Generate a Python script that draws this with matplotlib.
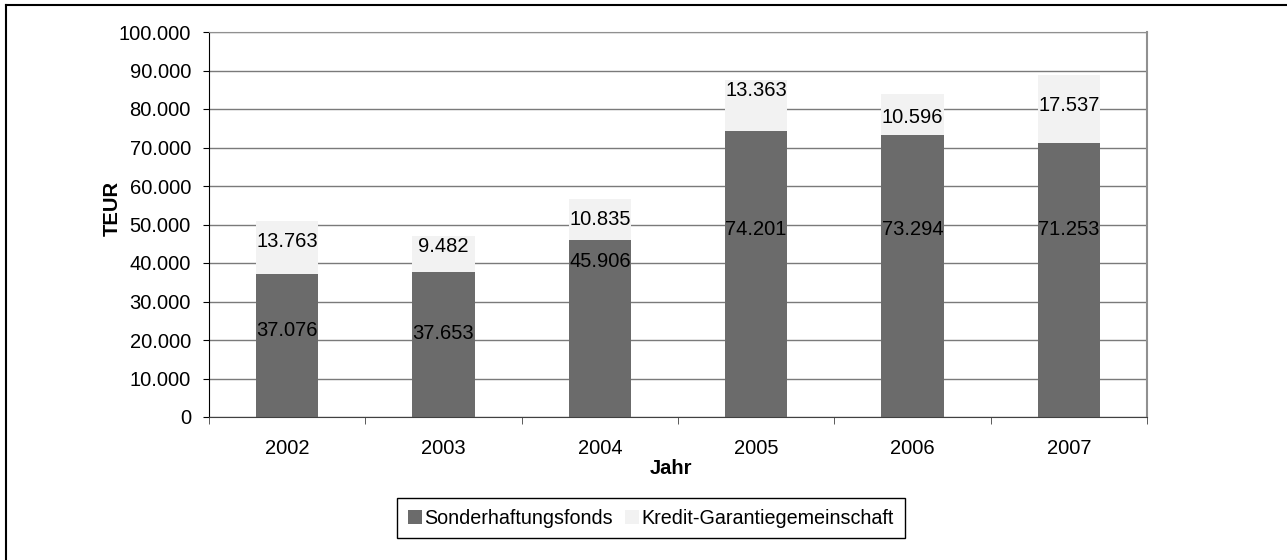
import numpy as np
import matplotlib.pyplot as plt
from matplotlib.ticker import FuncFormatter

plt.rcParams['font.family'] = ['Liberation Sans', 'DejaVu Sans']

jahre = ['2002', '2003', '2004', '2005', '2006', '2007']
sonderhaftungsfonds = [37076, 37653, 45906, 74201, 73294, 71253]
kredit_garantie = [13763, 9482, 10835, 13363, 10596, 17537]

# Lage der Beschriftungen (y in Datenwerten)
pos_sonder = [22400, 21600, 40500, 48800, 48800, 48800]
pos_kredit = [45500, 44200, 51400, 84900, 77900, 81000]

dunkel = '#6b6b6b'
hell = '#f2f2f2'
fs = 14.5

def punkt(v):
    return f'{v:,.0f}'.replace(',', '.')

fig = plt.figure(figsize=(12.87, 5.6), dpi=100)
ax = fig.add_axes([209/1287, 1 - 417/560, (1147 - 209)/1287, (417 - 32)/560])

x = np.arange(len(jahre))
b1 = ax.bar(x, sonderhaftungsfonds, width=0.4, color=dunkel, label='Sonderhaftungsfonds', zorder=2)
b2 = ax.bar(x, kredit_garantie, width=0.4, bottom=sonderhaftungsfonds, color=hell,
            label='Kredit-Garantiegemeinschaft', zorder=2)

for i in range(len(jahre)):
    ax.text(x[i], pos_sonder[i], punkt(sonderhaftungsfonds[i]), ha='center', va='center',
            fontsize=fs, color='black', zorder=3)
    ax.text(x[i], pos_kredit[i], punkt(kredit_garantie[i]), ha='center', va='center',
            fontsize=fs, color='black', zorder=3)

ax.set_xlim(-0.5, len(jahre) - 0.5)
ax.set_ylim(0, 100000)
ax.set_yticks(np.arange(0, 100001, 10000))
ax.yaxis.set_major_formatter(FuncFormatter(lambda v, p: punkt(v)))
ax.set_xticks(x)
ax.set_xticklabels(jahre)
ax.set_xticks(np.arange(-0.5, len(jahre), 1), minor=True)
ax.tick_params(axis='x', which='major', length=0, pad=16, labelsize=fs)
ax.tick_params(axis='x', which='minor', length=5, direction='out', color='#404040')
ax.tick_params(axis='y', length=4, direction='out', labelsize=fs, pad=9)

ax.grid(axis='y', color='#7a7a7a', linewidth=1, zorder=1)
ax.set_axisbelow(True)
ax.spines['left'].set_color('black')
ax.spines['bottom'].set_color('#404040')
ax.spines['top'].set_color('#909090')
ax.spines['right'].set_color('#909090')
ax.spines['right'].set_linewidth(1.5)

fig.text(112/1287, 1 - 208/560, 'TEUR', rotation=90, ha='center', va='center',
         fontsize=fs, fontweight='bold')
fig.text(671/1287, 1 - 468/560, 'Jahr', ha='center', va='center',
         fontsize=fs, fontweight='bold')

fig.legend(handles=[b1, b2], loc='center', bbox_to_anchor=(651/1287, 1 - 518/560), ncol=2,
           fontsize=14.2, frameon=True, fancybox=False, edgecolor='black', framealpha=1,
           handlelength=0.7, handleheight=0.7, handletextpad=0.15, columnspacing=0.6,
           borderpad=0.55, borderaxespad=0)

# Rahmen oben und links
fig.add_artist(plt.Line2D([6/1287, 6/1287], [0, 1 - 5/560], color='black', linewidth=1.5,
                          transform=fig.transFigure))
fig.add_artist(plt.Line2D([6/1287, 1], [1 - 5/560, 1 - 5/560], color='black', linewidth=1.5,
                          transform=fig.transFigure))

fig.savefig('out.png', dpi=100)
